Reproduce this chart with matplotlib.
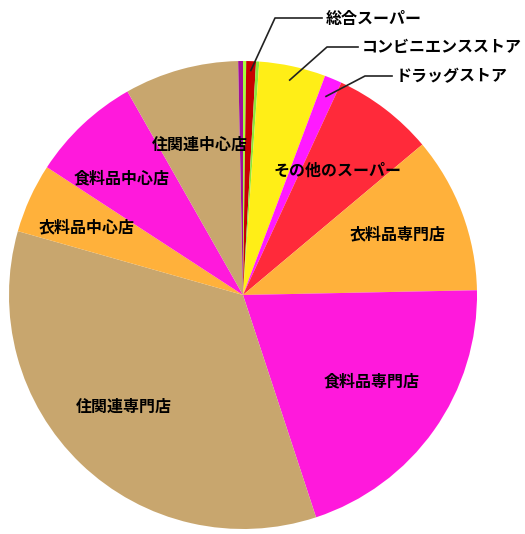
import numpy as np
import matplotlib
matplotlib.use('Agg')
import matplotlib.pyplot as plt

plt.rcParams['font.family'] = ['Noto Sans CJK JP', 'DejaVu Sans']

# 業態別シェア (%) — 12時の位置から時計回り
labels = ['', '総合スーパー', '', 'コンビニエンスストア', 'ドラッグストア',
          'その他のスーパー', '衣料品専門店', '食料品専門店', '住関連専門店',
          '衣料品中心店', '食料品中心店', '住関連中心店', '']
shares = [0.22, 0.67, 0.22, 4.6, 1.2, 7.0, 10.8, 20.3, 34.5, 4.8, 7.6, 7.9, 0.33]
colors = ['#A6FF3A', '#C80000', '#8CE63C', '#FFEE17', '#FF1AFF', '#FF2A3A',
          '#FFB13B', '#FF19DC', '#C8A66E', '#FFB13B', '#FF19DC', '#C8A66E', '#A0109C']

# 扇の中に書くラベル (画素座標: x, y は上から)
inside_pos = {
    'その他のスーパー': (338, 171),
    '衣料品専門店': (398, 234),
    '食料品専門店': (372, 381),
    '住関連専門店': (124, 407),
    '衣料品中心店': (87, 227),
    '食料品中心店': (122, 178),
    '住関連中心店': (200, 145),
}
# 引き出し線付きラベル: 文字の左端, 折れ点, 扇の中での半径比
callouts = {
    '総合スーパー': ((326, 19), (275, 18), 0.96),
    'コンビニエンスストア': ((362, 47), (327, 47), 0.94),
    'ドラッグストア': ((396, 76), (365, 76), 0.92),
}

W, H = 525, 534
cx, cy, R = 243, 295, 234

fig = plt.figure(figsize=(W / 100, H / 100), dpi=100)
ax = fig.add_axes([0, 0, 1, 1])
ax.set_xlim(0, W)
ax.set_ylim(0, H)
ax.set_aspect('equal')
ax.axis('off')

wedges, _ = ax.pie(shares, colors=colors, startangle=90, counterclock=False,
                   center=(cx, H - cy), radius=R,
                   wedgeprops=dict(linewidth=0))
ax.set_xlim(0, W)
ax.set_ylim(0, H)

for name, (x, y) in inside_pos.items():
    ax.text(x, H - y, name, ha='center', va='center', fontsize=11.5,
            fontweight='bold', color='black')

for name, ((tx, ty), (ex, ey), rf) in callouts.items():
    w = wedges[labels.index(name)]
    mid = np.deg2rad((w.theta1 + w.theta2) / 2)
    px = cx + rf * R * np.cos(mid)
    py = (H - cy) + rf * R * np.sin(mid)
    ax.plot([px, ex, tx - 4], [py, H - ey, H - ey], color='#222222', lw=1.2)
    ax.text(tx, H - ty, name, ha='left', va='center', fontsize=11.5,
            fontweight='bold', color='black')

fig.savefig('out.png', dpi=100)
